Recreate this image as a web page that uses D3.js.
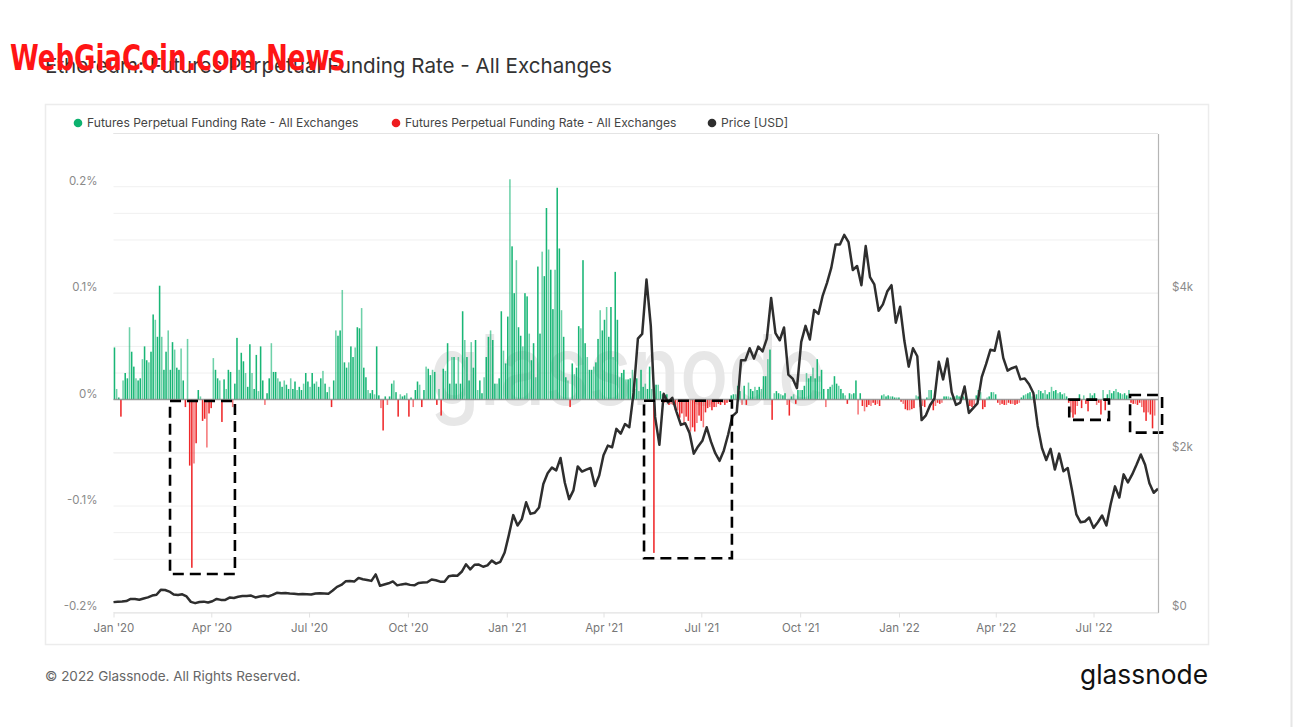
<!DOCTYPE html>
<html>
<head>
<meta charset="utf-8">
<script src="https://cdn.jsdelivr.net/npm/d3@7"></script>
<style>
  html, body { margin: 0; padding: 0; background: #fff; }
  svg { display: block; font-family: Inter, "Noto Sans", sans-serif; }
</style>
</head>
<body>
<svg id="chart" width="1295" height="727"></svg>
<script>
// ---------------- DATA ----------------
const startDate = "2020-01-01";
const fundingStepDays = 2;   // each funding value covers 2 days
// Funding rate, in units of 0.001 %
const fundingRate = [
  49,10,2,-16,18,25,20,68,45,31,
  20,18,20,38,50,37,35,45,80,75,
  59,107,59,28,45,65,28,54,47,30,
  28,48,18,-7,57,-62,-158,-60,-41,9,
  3,-20,-18,-45,-13,-8,39,28,20,18,
  -21,19,10,28,26,-7,15,58,28,44,
  36,25,12,52,25,10,42,8,50,18,
  -5,6,20,53,26,26,20,17,12,18,
  14,10,20,10,17,9,12,9,15,25,
  17,12,25,15,17,12,20,27,15,7,
  12,-7,18,65,60,65,103,35,30,35,
  50,40,49,68,67,86,30,21,9,6,
  9,5,50,4,-8,-29,3,-5,3,15,
  18,7,-16,5,3,4,6,-16,2,-7,
  9,17,14,-7,9,31,29,23,28,26,
  -5,10,-15,29,27,53,15,40,40,15,
  40,15,83,56,40,18,54,30,56,9,
  18,6,21,40,59,65,56,15,15,20,
  83,46,34,78,207,144,100,131,68,60,
  50,100,97,62,37,53,21,125,62,139,
  116,180,141,122,85,122,199,142,84,59,
  21,18,-7,34,24,30,69,67,131,53,
  40,28,28,31,35,57,84,65,75,87,
  59,87,40,120,75,21,25,28,19,19,
  20,28,10,20,8,28,12,15,10,31,
  10,-144,14,14,8,5,-3,5,-5,-4,
  -5,-10,-10,-17,-13,-23,-16,-20,-30,-26,
  -30,-22,-15,-20,-26,-12,-8,-7,-10,-7,
  -7,-4,-5,-3,-5,-3,-2,4,5,5,
  13,8,-5,13,-5,16,10,8,12,9,
  12,10,22,22,38,47,-19,6,8,6,
  5,4,6,-5,-15,3,5,-4,9,9,
  9,13,25,20,22,30,20,38,22,28,
  10,-7,10,12,14,22,15,13,10,6,
  4,-4,6,5,6,18,-14,6,-6,-11,
  -7,-5,-6,-3,-5,-4,-6,4,5,3,
  4,3,3,2,2,2,-2,-4,-9,-10,
  -10,-9,-8,4,3,-7,-6,-7,2,9,
  9,-10,-6,-3,-4,-3,3,3,3,2,
  2,3,4,3,4,3,2,-7,-6,-7,
  -5,4,9,7,-9,-7,2,3,7,7,
  5,-3,-5,-4,-5,-5,-3,-4,-4,-5,
  -4,-3,2,4,5,6,7,3,-3,5,
  9,8,6,9,5,7,12,8,9,6,
  7,5,6,3,-3,-12,-17,-14,-6,5,
  -8,4,-4,-11,6,4,6,-5,-3,-14,
  9,-10,5,9,6,8,10,7,6,5,
  6,4,9,-3,-4,-4,-5,-3,-7,-12,
  -20,-12,-14,-27,-15
];

const priceStepDays = 4;   // each price value is 4 days apart
// ETH price, USD
const priceUSD = [
  130,136,138,144,170,169,160,175,189,212,222,284,282,262,225,218,228,201,133,117,
  132,136,125,141,170,158,157,187,182,197,206,207,212,189,200,209,201,220,247,241,
  244,238,235,228,232,228,225,239,241,238,236,275,321,345,390,395,387,433,416,408,
  396,477,335,351,366,389,340,352,359,346,341,370,377,379,413,404,386,385,453,463,
  460,510,604,540,598,600,573,590,650,612,635,751,975,1220,1090,1170,1380,1235,1250,1315,
  1610,1745,1815,1780,1935,1625,1420,1530,1830,1765,1790,1810,1585,1715,1970,2090,2070,2300,2240,2360,
  2320,2750,3430,3490,4170,3590,2450,2100,2740,2630,2690,2510,2350,2370,2250,1990,2080,2150,2320,2140,
  1995,1900,2030,2230,2460,2510,3160,3160,3310,3180,3330,3270,3430,3940,3500,3410,3570,2980,2930,2810,
  3390,3590,3420,3790,3740,3970,4130,4320,4610,4610,4730,4640,4290,4340,4100,4590,4200,4110,3780,3860,
  4020,4100,3630,3830,3400,3080,3310,3210,2410,2470,2600,2680,3140,2920,3180,2760,2600,2630,2830,2500,
  2560,2620,2950,3110,3290,3280,3520,3190,3030,3060,3080,2920,2930,2860,2750,2340,2060,1910,2050,1790,
  1990,1770,1810,1530,1230,1130,1140,1190,1060,1130,1215,1090,1360,1580,1440,1730,1630,1730,1850,1980,
  1850,1620,1500,1550
];

const endDayOffset = 972;
const leftTickValues = [-0.2,-0.15,-0.1,-0.05,0,0.05,0.1,0.15,0.2,0.25];
const leftTickLabels = {"-0.2":"-0.2%","-0.1":"-0.1%","0":"0%","0.1":"0.1%","0.2":"0.2%"};
const rightTickValues = [0,1000,2000,3000,4000,5000,6000];
const rightTickLabels = {"0":"$0","2000":"$2k","4000":"$4k"};
const xTickMonths = ["2020-01-01","2020-04-01","2020-07-01","2020-10-01","2021-01-01","2021-04-01",
  "2021-07-01","2021-10-01","2022-01-01","2022-04-01","2022-07-01"];
const xTickLabels = ["Jan '20","Apr '20","Jul '20","Oct '20","Jan '21","Apr '21","Jul '21","Oct '21","Jan '22","Apr '22","Jul '22"];

// highlighted regions: [startDay, endDay, topValue%, bottomValue%]
const boxStartDays = [52.6, 493.7, 889.4, 946];
const boxEndDays   = [113, 575.5, 926.4, 975.8];
const boxTopVals   = [-0.0013, -0.001, 0, 0.0043];
const boxBottomVals= [-0.1638, -0.149, -0.019, -0.031];

const titleText = "Ethereum: Futures Perpetual Funding Rate - All Exchanges";
const legendLabels = ["Futures Perpetual Funding Rate - All Exchanges","Futures Perpetual Funding Rate - All Exchanges","Price [USD]"];
const legendColors = ["#0db26f","#ee1c1f","#2e2e2e"];

// ---------------- DRAW ----------------
const svg = d3.select("#chart");
const parse = d3.utcParse("%Y-%m-%d");
const t0 = parse(startDate);
const GREEN = "#0db26f", RED = "#ee1c1f";

const L = 113.5, R = 1158, T = 133.5, B = 612.5;
const x = d3.scaleUtc().domain([t0, d3.utcDay.offset(t0, endDayOffset)]).range([L, R]);
const yL = d3.scaleLinear().domain([-0.2, 0.25]).range([B, T]);
const yR = d3.scaleLinear().domain([0, 6000]).range([B, T]);
const dayPx = x(d3.utcDay.offset(t0, 1)) - x(t0);

svg.append("rect").attr("width",1295).attr("height",727).attr("fill","#fff");
// page edge line on the right
svg.append("line").attr("x1",1291.5).attr("x2",1291.5).attr("y1",0).attr("y2",727)
  .attr("stroke","#e6e6e6").attr("stroke-width",2);

// outer card
svg.append("rect").attr("x",45.5).attr("y",104.5).attr("width",1163).attr("height",540)
  .attr("fill","none").attr("stroke","#ececec").attr("stroke-width",1.5);

// title
svg.append("text").attr("x",45).attr("y",73).attr("font-size",20.6).attr("fill","#333")
  .text(titleText);

// legend
const legendX = [78, 396, 712];
legendLabels.forEach((lab,i)=>{
  svg.append("circle").attr("cx",legendX[i]).attr("cy",123).attr("r",4.3).attr("fill",legendColors[i]);
  svg.append("text").attr("x",legendX[i]+9).attr("y",127.2).attr("font-size",12.1).attr("fill","#444").text(lab);
});

// grid
const grid = svg.append("g");
leftTickValues.forEach(v=>{
  grid.append("line").attr("x1",L).attr("x2",R).attr("y1",yL(v)).attr("y2",yL(v))
    .attr("stroke", v===0.25 ? "#e4e4e4" : "#f0f0f0").attr("stroke-width",1);
});
rightTickValues.forEach(v=>{
  grid.append("line").attr("x1",L).attr("x2",R).attr("y1",yR(v)).attr("y2",yR(v))
    .attr("stroke", v===6000 ? "#e4e4e4" : "#f0f0f0").attr("stroke-width",1);
});

// big watermark
svg.append("text").attr("x",430).attr("y",405).attr("font-size",97).attr("font-weight",500)
  .attr("fill","#e7e7e7").attr("textLength",395).attr("lengthAdjust","spacingAndGlyphs")
  .text("glassnode");

// funding bars
const bw = fundingStepDays * dayPx * 0.72;
svg.append("g").selectAll("rect").data(fundingRate).join("rect")
  .attr("x", (d,i)=> x(d3.utcDay.offset(t0, i*fundingStepDays)) + 0.2)
  .attr("width", bw)
  .attr("y", d => d>=0 ? yL(d/1000) : yL(0))
  .attr("height", d => Math.abs(yL(d/1000) - yL(0)))
  .attr("fill", d => d>=0 ? GREEN : RED)
  .attr("opacity", (d,i)=> i%3===1 ? 0.6 : 0.95);

// zero line
svg.append("line").attr("x1",L).attr("x2",R).attr("y1",yL(0)).attr("y2",yL(0))
  .attr("stroke","#8c8c8c").attr("stroke-width",1.5).attr("opacity",0.8);

// price line
const line = d3.line()
  .x((d,i)=> x(d3.utcDay.offset(t0, i*priceStepDays)))
  .y(d=> yR(d));
svg.append("path").datum(priceUSD).attr("d", line).attr("fill","none")
  .attr("stroke","#2e2e2e").attr("stroke-width",2.5).attr("stroke-linejoin","round");

// highlight boxes
boxStartDays.forEach((sd,i)=>{
  const x0 = x(t0) + dayPx * sd;
  const x1 = x(t0) + dayPx * boxEndDays[i];
  const y0 = yL(boxTopVals[i]), y1 = yL(boxBottomVals[i]);
  svg.append("rect").attr("x",x0).attr("y",y0).attr("width",x1-x0).attr("height",y1-y0)
    .attr("fill","none").attr("stroke","#000").attr("stroke-width",2.6)
    .attr("stroke-dasharray","11,6");
});

// axes
const leftAxis = d3.axisLeft(yL).tickValues(leftTickValues.filter(v=>leftTickLabels[String(v)]))
  .tickFormat(v=>leftTickLabels[String(v)]).tickSize(0).tickPadding(16);
const gl = svg.append("g").attr("transform",`translate(${L},0)`).call(leftAxis);
gl.select(".domain").remove();
gl.selectAll("text").attr("font-size",11.5).attr("fill","#8a8a8a").attr("font-family","Inter").attr("dy","-0.22em");

const rightAxis = d3.axisRight(yR).tickValues(rightTickValues.filter(v=>rightTickLabels[String(v)]))
  .tickFormat(v=>rightTickLabels[String(v)]).tickSize(0).tickPadding(14);
const gr = svg.append("g").attr("transform",`translate(${R},0)`).call(rightAxis);
gr.select(".domain").attr("stroke","#b5b5b5").attr("stroke-width",1.2);
gr.selectAll("text").attr("font-size",11.5).attr("fill","#8a8a8a").attr("font-family","Inter").attr("dy","-0.22em");

const bottomAxis = d3.axisBottom(x).tickValues(xTickMonths.map(parse))
  .tickFormat((d,i)=>xTickLabels[i]).tickSizeInner(5).tickSizeOuter(0).tickPadding(6);
const gb = svg.append("g").attr("transform",`translate(0,${B})`).call(bottomAxis);
gb.select(".domain").attr("stroke","#e2e2e2");
gb.selectAll(".tick line").attr("stroke","#e2e2e2");
gb.selectAll("text").attr("font-size",11.5).attr("fill","#777").attr("font-family","Inter");

// footer
svg.append("text").attr("x",45).attr("y",681).attr("font-size",13.5).attr("fill","#666")
  .text("© 2022 Glassnode. All Rights Reserved.");
svg.append("text").attr("x",1208).attr("y",684).attr("text-anchor","end").attr("font-size",27)
  .attr("font-weight",400).attr("fill","#111").attr("textLength",128).attr("lengthAdjust","spacingAndGlyphs")
  .text("glassnode");

// red site watermark
svg.append("text").attr("x",10).attr("y",70).attr("font-size",35).attr("font-weight",700)
  .attr("font-family","'Liberation Sans Narrow','DejaVu Sans Condensed',sans-serif")
  .attr("fill","#ff1515").attr("textLength",335).attr("lengthAdjust","spacingAndGlyphs")
  .text("WebGiaCoin.com News");
</script>
</body>
</html>
